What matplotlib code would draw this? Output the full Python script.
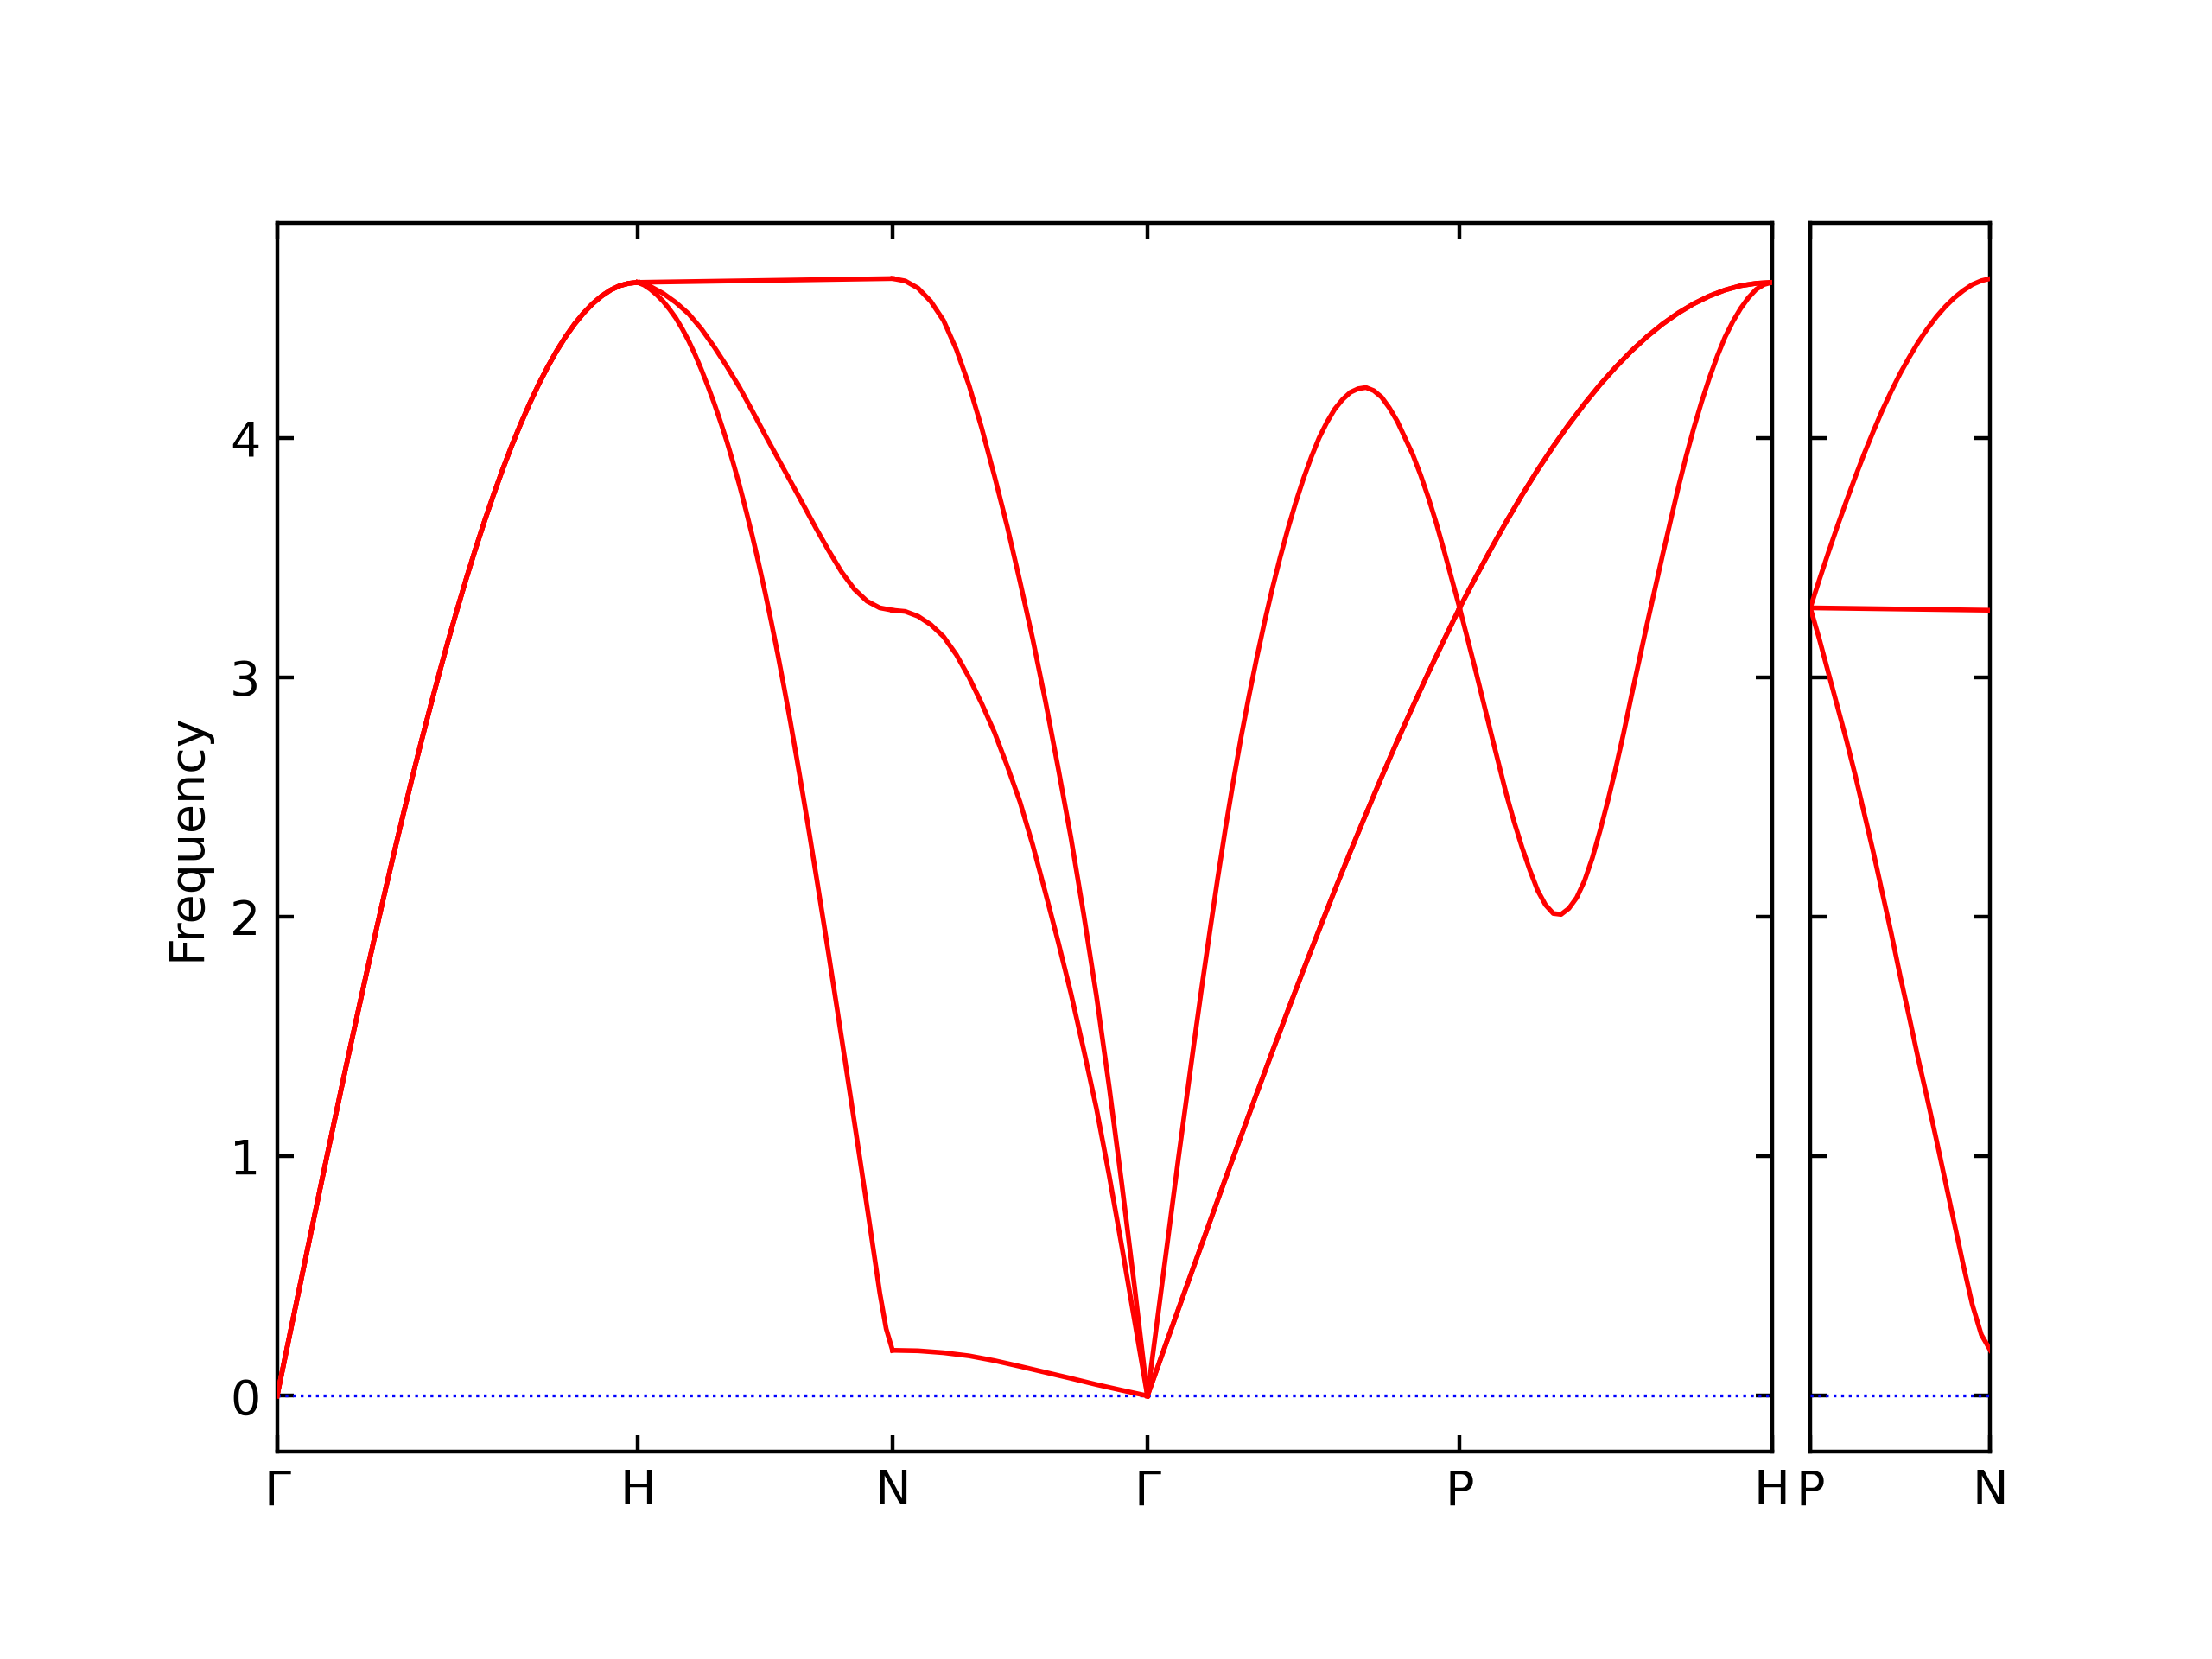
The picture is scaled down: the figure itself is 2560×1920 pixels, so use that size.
import numpy as np
import matplotlib
matplotlib.use("Agg")
import matplotlib.pyplot as plt

# Band path Γ-H-N-Γ-P-H | P-N (distances along path)
labels_main = ["Γ", "H", "N", "Γ", "P", "H"]
ticks_main = [0.0, 1.0, 1.7071, 2.4142, 3.2802, 4.1463]
labels_side = ["P", "N"]
ticks_side = [0.0, 0.5]

# Frequencies, equally spaced along each segment
# Γ-H (the three branches coincide)
gh = [0.0, 0.183, 0.365, 0.546, 0.727, 0.907, 1.085, 1.262, 1.437, 1.609,
      1.779, 1.946, 2.111, 2.272, 2.429, 2.583, 2.733, 2.878, 3.019, 3.156,
      3.287, 3.414, 3.535, 3.651, 3.761, 3.866, 3.964, 4.056, 4.142, 4.222,
      4.295, 4.362, 4.422, 4.475, 4.521, 4.560, 4.592, 4.617, 4.635, 4.645, 4.649]

# H-N
hn_top = [4.649, 4.657, 4.665]
hn_mid = [4.649, 4.632, 4.603, 4.565, 4.518, 4.455, 4.38, 4.298, 4.21, 4.112, 4.012,
          3.915, 3.818, 3.72, 3.622, 3.528, 3.44, 3.368, 3.318, 3.29, 3.28]
hn_low = [4.649, 4.638, 4.62, 4.597, 4.57, 4.537, 4.50, 4.455, 4.405, 4.348,
          4.285, 4.217, 4.145, 4.067, 3.985, 3.895, 3.80, 3.697, 3.59, 3.475,
          3.355, 3.228, 3.095, 2.955, 2.81, 2.657, 2.50, 2.34, 2.175, 2.008,
          1.84, 1.668, 1.495, 1.32, 1.145, 0.968, 0.79, 0.61, 0.43, 0.28, 0.19]

# N-Γ
ng_top = [4.665, 4.655, 4.625, 4.57, 4.49, 4.37, 4.22, 4.04, 3.84, 3.63, 3.40,
          3.16, 2.90, 2.62, 2.33, 2.01, 1.67, 1.29, 0.88, 0.45, 0.0]
ng_mid = [3.28, 3.275, 3.255, 3.22, 3.17, 3.095, 3.00, 2.89, 2.77, 2.63, 2.48,
          2.30, 2.10, 1.895, 1.68, 1.445, 1.20, 0.92, 0.62, 0.31, 0.0]
ng_low = [0.19, 0.188, 0.18, 0.167, 0.147, 0.123, 0.098, 0.073, 0.047, 0.023, 0.0]

# Γ-P
gp_wig = [0.0, 0.25, 0.50, 0.75, 1.00, 1.24, 1.48, 1.715, 1.94, 2.16,
          2.37, 2.565, 2.75, 2.92, 3.08, 3.23, 3.37, 3.50, 3.62, 3.73,
          3.83, 3.92, 4.00, 4.065, 4.12, 4.16, 4.19, 4.205, 4.21, 4.197,
          4.17, 4.125, 4.07, 4.00, 3.93, 3.845, 3.75, 3.645, 3.53, 3.41, 3.29]
gp_smooth = [0.0, 0.183, 0.365, 0.546, 0.727, 0.907, 1.085, 1.262, 1.437, 1.609,
             1.779, 1.946, 2.111, 2.272, 2.429, 2.583, 2.733, 2.878, 3.019, 3.156, 3.29]

# P-H
ph_wig = [3.29, 3.163, 3.035, 2.903, 2.77, 2.64, 2.51, 2.395, 2.29, 2.195,
          2.11, 2.05, 2.014, 2.01, 2.035, 2.08, 2.15, 2.245, 2.36, 2.485,
          2.62, 2.765, 2.92, 3.07, 3.22, 3.365, 3.51, 3.65, 3.79, 3.92,
          4.04, 4.15, 4.25, 4.34, 4.42, 4.485, 4.54, 4.585, 4.62, 4.64, 4.649]
ph_smooth = [3.29, 3.414, 3.535, 3.651, 3.761, 3.866, 3.964, 4.056, 4.142, 4.222,
             4.295, 4.362, 4.422, 4.475, 4.521, 4.560, 4.592, 4.617, 4.635, 4.645, 4.649]

# P-N (side panel)
pn_top = [3.29, 3.407, 3.52, 3.63, 3.735, 3.837, 3.935, 4.027, 4.115, 4.195,
          4.27, 4.337, 4.40, 4.455, 4.505, 4.548, 4.585, 4.615, 4.64, 4.656, 4.665]
pn_mid = [3.29, 3.28]
pn_low = [3.29, 3.16, 3.02, 2.88, 2.74, 2.59, 2.43, 2.27, 2.10, 1.93, 1.75,
          1.58, 1.405, 1.24, 1.07, 0.895, 0.72, 0.545, 0.38, 0.255, 0.19]

segments_main = [
    [gh, gh, gh],
    [hn_top, hn_mid, hn_low],
    [ng_top, ng_mid, ng_low],
    [gp_wig, gp_smooth, gp_smooth],
    [ph_wig, ph_smooth, ph_smooth],
]
segments_side = [[pn_top, pn_mid, pn_low]]

ylim = (-0.233, 4.897)

fig = plt.figure(figsize=(6.4, 4.8), dpi=400)
ax1 = fig.add_axes([0.1253, 0.125, 0.6757, 0.7406])
ax2 = fig.add_axes([0.8184, 0.125, 0.0814, 0.7406])


def draw(ax, segments, ticks, labels):
    ax.axhline(0, color="blue", linestyle=":", linewidth=0.6, zorder=3)
    for i, seg in enumerate(segments):
        for freqs in seg:
            x = np.linspace(ticks[i], ticks[i + 1], len(freqs))
            ax.plot(x, freqs, color="red", linewidth=1.0, zorder=3)
    ax.set_xlim(ticks[0], ticks[-1])
    ax.set_ylim(*ylim)
    ax.set_xticks(ticks)
    ax.set_xticklabels(labels)
    ax.set_yticks([0, 1, 2, 3, 4])
    ax.tick_params(direction="in", top=True, right=True, labelsize=10)


draw(ax1, segments_main, ticks_main, labels_main)
draw(ax2, segments_side, ticks_side, labels_side)
ax2.set_yticklabels([])
ax1.set_ylabel("Frequency")

fig.savefig("out.png", dpi=400)
